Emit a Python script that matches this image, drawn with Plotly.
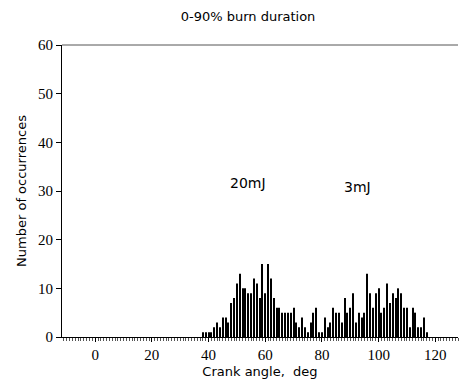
import plotly.graph_objects as go

# 20 mJ histogram (crank angle deg -> occurrences)
angle_20mJ = list(range(38, 71))
count_20mJ = [1, 1, 1, 1, 2, 3, 2, 4, 4, 3, 7, 8, 11, 13, 10, 10, 9, 9, 12, 11,
              8, 15, 9, 15, 12, 8, 6, 6, 5, 5, 5, 5, 6]

# 3 mJ histogram
angle_3mJ = list(range(71, 118))
count_3mJ = [3, 2, 4, 2, 1, 3, 5, 6, 1, 1, 4, 2, 3, 6, 5, 5, 3, 8, 5, 6, 9, 3,
             5, 4, 5, 13, 9, 6, 9, 10, 5, 6, 11, 7, 9, 8, 10, 9, 6, 6, 2, 6, 5,
             2, 2, 4, 1]

x_tick_step = 20
y_tick_step = 10

fig = go.Figure()
fig.add_trace(go.Bar(x=angle_20mJ, y=count_20mJ, width=0.38,
                     marker=dict(color="black", line=dict(width=0)), name="20mJ"))
fig.add_trace(go.Bar(x=angle_3mJ, y=count_3mJ, width=0.38,
                     marker=dict(color="black", line=dict(width=0)), name="3mJ"))

fig.add_annotation(x=54, y=31.6, text="20mJ", showarrow=False,
                   font=dict(family="DejaVu Sans", size=14, color="black"))
fig.add_annotation(x=92.5, y=30.8, text="3mJ", showarrow=False,
                   font=dict(family="DejaVu Sans", size=14, color="black"))

fig.update_layout(
    width=461, height=386,
    margin=dict(l=62, r=3, t=45, b=49),
    paper_bgcolor="white", plot_bgcolor="white",
    showlegend=False, barmode="overlay",
    title=dict(text="0-90% burn duration", x=0.538, xanchor="center",
               y=0.958, yanchor="middle",
               font=dict(family="DejaVu Sans", size=13, color="black")),
    xaxis=dict(range=[-11.7, 128], tickmode="linear", tick0=0, dtick=x_tick_step,
               showgrid=False, zeroline=False,
               showline=True, linecolor="black", linewidth=1, mirror=False,
               ticks="outside", ticklen=4, tickcolor="black",
               minor=dict(ticks="outside", dtick=1, ticklen=3, tickcolor="#555",
                          showgrid=False),
               tickfont=dict(family="Liberation Serif", size=15, color="black"),
               title=dict(text="Crank angle,  deg", standoff=4,
                          font=dict(family="DejaVu Sans", size=13, color="black"))),
    yaxis=dict(range=[0, 60], tickmode="linear", tick0=0, dtick=y_tick_step,
               showgrid=False, zeroline=False,
               showline=True, linecolor="black", linewidth=1,
               ticks="outside", ticklen=5, tickcolor="black",
               tickfont=dict(family="Liberation Serif", size=15, color="black"),
               title=dict(text="Number of occurrences", standoff=8,
                          font=dict(family="DejaVu Sans", size=13, color="black"))),
)
# top frame line
fig.add_shape(type="line", xref="paper", yref="paper", x0=0, x1=1, y0=1, y1=1,
              line=dict(color="#555", width=1))

fig.write_html("out.html")
